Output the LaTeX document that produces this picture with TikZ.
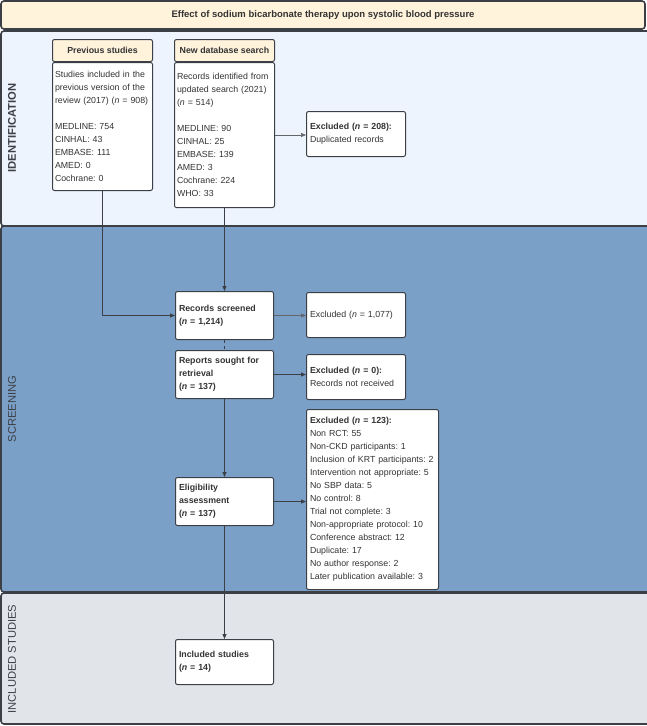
\documentclass[tikz,border=0pt]{standalone}
\usepackage{fontspec}
\setmainfont{Liberation Sans}
\newfontfamily\lanefont{Liberation Sans}
\usetikzlibrary{arrows.meta}
\definecolor{titlefill}{HTML}{FFF3DC}
\definecolor{identfill}{HTML}{EEF4FE}
\definecolor{screenfill}{HTML}{7BA0C8}
\definecolor{inclfill}{HTML}{E1E5EA}
\definecolor{edgegray}{HTML}{3C4046}
\definecolor{textgray}{HTML}{333333}
\frenchspacing

\begin{document}
\begin{tikzpicture}[x=1pt, y=-1pt, font=\fontsize{8.8}{13}\selectfont, text=textgray,
    lane/.style={draw=edgegray, line width=1.6pt, rounded corners=3pt},
    lanelabel/.style={rotate=90, font=\lanefont\fontsize{11.2}{13}\selectfont, text=edgegray},
    flowbox/.style={draw=edgegray, line width=1pt, fill=white, rounded corners=2pt, anchor=north west,
        align=left, inner xsep=3.5pt, inner ysep=3pt},
    headbox/.style={flowbox, fill=titlefill, align=center, font=\fontsize{8.8}{13}\selectfont\bfseries},
    flow/.style={draw=edgegray, line width=1.1pt, -{Triangle[length=5pt,width=4pt]}},
    thinflow/.style={draw=edgegray!80, line width=0.6pt, -{Triangle[length=5pt,width=4pt]}}]
    \useasboundingbox (0,0) rectangle (646,726);
    % lanes
    \draw[lane, fill=titlefill] (1,1) rectangle (645,29);
    \node[font=\fontsize{9.5}{13}\selectfont\bfseries] (title) at (323,15) {Effect of sodium bicarbonate therapy upon systolic blood pressure};
    \draw[lane, fill=identfill] (1,31) rectangle (660,226);
    \draw[lane, fill=screenfill] (1,226) rectangle (660,592);
    \draw[lane, fill=inclfill] (1,593) rectangle (660,724);
    \node[lanelabel, font=\lanefont\fontsize{11.2}{13}\selectfont\bfseries] (identlab) at (12,128) {IDENTIFICATION};
    \node[lanelabel] (screenlab) at (12,409) {SCREENING};
    \node[lanelabel] (incllab) at (12,659) {INCLUDED STUDIES};
    % identification
    \node[headbox, minimum width=100, minimum height=22] (prevhead) at (52,39) {Previous studies};
    \node[flowbox, inner xsep=2.5pt, text width=95, minimum height=128] (prevbody) at (prevhead.south west)
        {Studies included in the\\ previous version of the\\ review (2017) (\textit{n} = 908)\\[13pt]
         MEDLINE: 754\\ CINHAL: 43\\ EMBASE: 111\\ AMED: 0\\ Cochrane: 0};
    \node[headbox, minimum width=100, minimum height=22] (newhead) at (174,39) {New database search};
    \node[flowbox, inner xsep=2.5pt, text width=95, minimum height=145] (newbody) at (newhead.south west)
        {Records identified from\\ updated search (2021)\\ (\textit{n} = 514)\\[13pt]
         MEDLINE: 90\\ CINHAL: 25\\ EMBASE: 139\\ AMED: 3\\ Cochrane: 224\\ WHO: 33};
    \node[flowbox, text width=92, minimum height=45] (dupl) at (306,111)
        {\textbf{Excluded (\textit{n} = 208):}\\ Duplicated records};
    % screening
    \node[flowbox, text width=91, minimum height=48] (screened) at (175,291)
        {\textbf{Records screened}\\ \textbf{(\textit{n} = 1,214)}};
    \node[flowbox, text width=92, minimum height=45] (exscreen) at (306,292)
        {Excluded (\textit{n} = 1,077)};
    \node[flowbox, text width=91, minimum height=48] (sought) at (175,350)
        {\textbf{Reports sought for}\\ \textbf{retrieval}\\ \textbf{(\textit{n} = 137)}};
    \node[flowbox, text width=92, minimum height=45] (exsought) at (306,354)
        {\textbf{Excluded (\textit{n} = 0):}\\ Records not received};
    \node[flowbox, text width=125, minimum height=180] (exelig) at (306,409)
        {\textbf{Excluded (\textit{n} = 123):}\\ Non RCT: 55\\ Non-CKD participants: 1\\
         Inclusion of KRT participants: 2\\ Intervention not appropriate: 5\\ No SBP data: 5\\
         No control: 8\\ Trial not complete: 3\\ Non-appropriate protocol: 10\\
         Conference abstract: 12\\ Duplicate: 17\\ No author response: 2\\ Later publication available: 3};
    \node[flowbox, text width=91, minimum height=48] (elig) at (175,477)
        {\textbf{Eligibility}\\ \textbf{assessment}\\ \textbf{(\textit{n} = 137)}};
    % included
    \node[flowbox, text width=91, minimum height=45] (incl) at (175,639)
        {\textbf{Included studies}\\ \textbf{(\textit{n} = 14)}};
    % connectors
    \draw[flow] (prevbody.south) |- (screened.west);
    \draw[flow] (newbody.south) -- (screened.north);
    \draw[thinflow] (newbody.east) -- (newbody.east -| dupl.west);
    \draw[thinflow] (screened.east) -- (screened.east -| exscreen.west);
    \draw[edgegray, line width=1pt, dashed] (screened.south) -- (sought.north);
    \draw[flow] (sought.east) -- (sought.east -| exsought.west);
    \draw[flow] (sought.south) -- (elig.north);
    \draw[flow] (elig.east) -- (elig.east -| exelig.west);
    \draw[flow] (elig.south) -- (incl.north);
\end{tikzpicture}
\end{document}
